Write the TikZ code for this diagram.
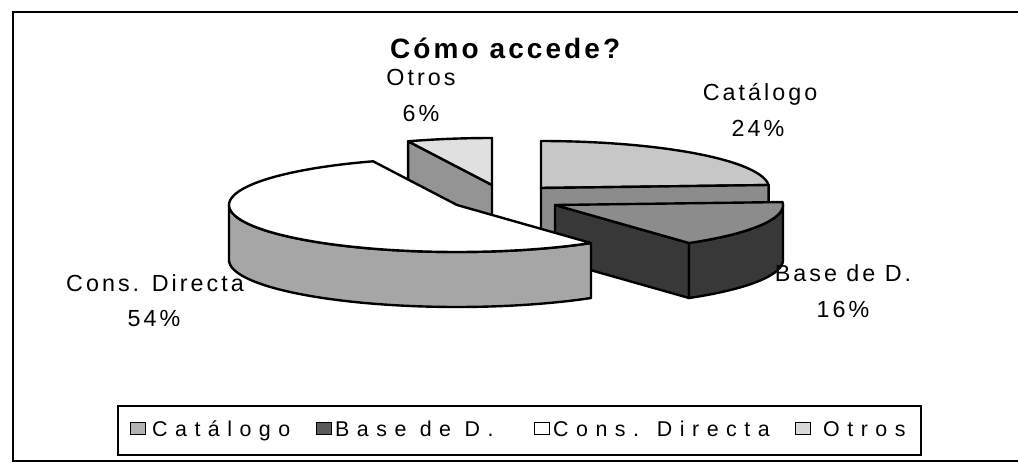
\documentclass[tikz,border=0pt]{standalone}
\usepackage{fontspec}
\setmainfont{Liberation Sans}
\newfontfamily\lblfont[LetterSpace=13]{Liberation Sans}
\newfontfamily\legfont[LetterSpace=35]{Liberation Sans}
\newfontfamily\ttlfont[LetterSpace=11]{Liberation Sans}
\begin{document}
\begin{tikzpicture}[x=1pt,y=-1pt,
    rim/.style={draw=black,line width=2.4pt,line join=round},
    lbl/.style={font=\lblfont\fontsize{23.3}{28}\selectfont,inner sep=0pt,anchor=base},
    legtxt/.style={font=\legfont\fontsize{21.4}{26}\selectfont,inner sep=0pt,anchor=base west},
    swatch/.style={draw=black,line width=1pt}]
            \useasboundingbox (0,0) rectangle (1018,463);
            \draw[line width=1.6pt] (13,12) rectangle (1040,461);
            \node[font=\ttlfont\bfseries\fontsize{28}{32}\selectfont,inner sep=0pt,anchor=base west] (title) at (390,58) {Cómo accede?};
            % Otros
            \draw[rim,fill=black!42] (492,185) -- (408.1,141.3) -- (408.1,196.3) -- (492,240) -- cycle;
            \draw[rim,fill=black!12] (492,185) -- plot[domain=338.4:360,samples=10] ({492+228*sin(\x)},{185-47*cos(\x)}) -- cycle;
            % Catalogo
            \draw[rim,fill=black!22] (541,188) -- plot[domain=0:86.4,samples=40] ({541+228*sin(\x)},{188-47*cos(\x)}) -- cycle;
            \draw[rim,fill=black!45] (541,188) -- (768.6,185) -- (768.6,240) -- (541,243) -- cycle;
            % Base de D.
            \draw[rim,fill=black!78] (555,205) -- (689,243) -- (689,298) -- (555,260) -- cycle;
            \draw[rim,fill=black!78] plot[domain=90:144,samples=30] ({555+228*sin(\x)},{205-47*cos(\x)}) -- plot[domain=144:90,samples=30] ({555+228*sin(\x)},{260-47*cos(\x)}) -- cycle;
            \draw[rim,fill=black!45] (555,205) -- plot[domain=86.4:144,samples=30] ({555+228*sin(\x)},{205-47*cos(\x)}) -- cycle;
            % Cons. Directa
            \draw[rim,fill=black!35] plot[domain=144:270,samples=60] ({457+228*sin(\x)},{205-47*cos(\x)}) -- plot[domain=270:144,samples=60] ({457+228*sin(\x)},{260-47*cos(\x)}) -- cycle;
            \draw[rim,fill=white] (457,205) -- plot[domain=144:338.4,samples=90] ({457+228*sin(\x)},{205-47*cos(\x)}) -- cycle;
            % labels
            \node[lbl] (lotr) at (421,85) {Otros};
            \node[lbl] (potr) at (421,121) {6\%};
            \node[lbl] (lcat) at (760,100.5) {Catálogo};
            \node[lbl] (pcat) at (758,136) {24\%};
            \node[lbl] (lbas) at (843,281.5) {Base de D.};
            \node[lbl] (pbas) at (843,317) {16\%};
            \node[lbl] (lcon) at (155,291.5) {Cons. Directa};
            \node[lbl] (pcon) at (154,326.5) {54\%};
            % legend
            \draw[line width=1.2pt] (118,406) rectangle (921,455);
            \draw[swatch,fill=black!30] (130,422) rectangle (145,434);
            \node[legtxt] (gcat) at (152,436) {Catálogo};
            \draw[swatch,fill=black!65] (316,422) rectangle (331,434);
            \node[legtxt] (gbas) at (335,436) {Base de D.};
            \draw[swatch,fill=white] (534,422) rectangle (549,434);
            \node[legtxt] (gcon) at (553,436) {Cons. Directa};
            \draw[swatch,fill=black!15] (795,422) rectangle (810,434);
            \node[legtxt] (gotr) at (823,436) {Otros};
        \end{tikzpicture}
\end{document}
